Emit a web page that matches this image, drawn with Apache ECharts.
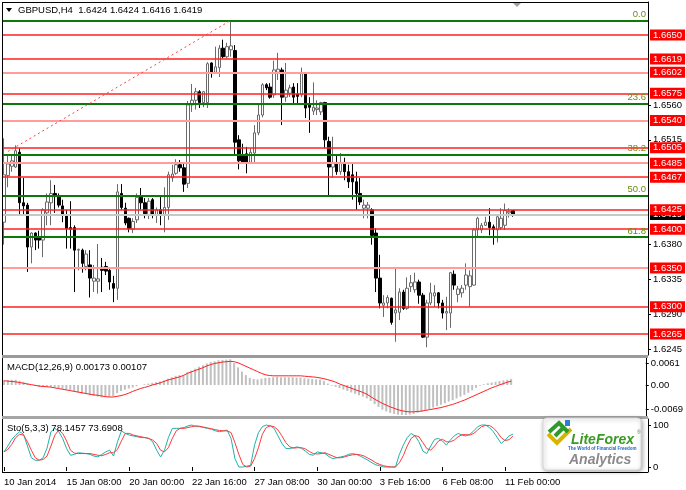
<!DOCTYPE html>
<html><head><meta charset="utf-8">
<script src="https://cdn.jsdelivr.net/npm/echarts@6/dist/echarts.min.js"></script>
<style>html,body{margin:0;padding:0;background:#fff}#c{width:686px;height:490px}</style>
</head><body><div id="c"></div>
<script>
// ---- data ----
const tickLabels = ['10 Jan 2014','15 Jan 08:00','20 Jan 00:00','22 Jan 16:00','27 Jan 08:00','30 Jan 00:00','3 Feb 16:00','6 Feb 08:00','11 Feb 00:00'];
const opens = [1.6409,1.6469,1.6481,1.6480,1.6499,1.6434,1.6431,1.6377,1.6395,1.6390,
1.6386,1.6421,1.6434,1.6446,1.6443,1.6430,1.6418,1.6402,1.6402,1.6373,
1.6373,1.6352,1.6354,1.6333,1.6333,1.6351,1.6352,1.6347,1.6330,1.6324,
1.6446,1.6427,1.6414,1.6400,1.6412,1.6442,1.6434,1.6418,1.6438,1.6418,
1.6425,1.6418,1.6428,1.6466,1.6472,1.6483,1.6479,1.6459,1.6560,1.6566,
1.6577,1.6563,1.6563,1.6614,1.6602,1.6608,1.6633,1.6622,1.6631,1.6630,
1.6515,1.6496,1.6497,1.6486,1.6498,1.6524,1.6547,1.6586,1.6583,1.6573,
1.6602,1.6605,1.6570,1.6575,1.6583,1.6574,1.6573,1.6600,1.6561,1.6552,
1.6554,1.6551,1.6563,1.6513,1.6480,1.6485,1.6474,1.6486,1.6474,1.6470,
1.6461,1.6446,1.6427,1.6427,1.6425,1.6395,1.6337,1.6302,1.6305,1.6311,
1.6292,1.6293,1.6319,1.6298,1.6326,1.6322,1.6332,1.6315,1.6261,1.6305,
1.6314,1.6318,1.6305,1.6292,1.6292,1.6342,1.6316,1.6318,1.6328,1.6326,
1.6328,1.6399,1.6399,1.6405,1.6409,1.6403,1.6399,1.6402,1.6405,1.6421,
1.6424];
const closes = [1.6470,1.6484,1.6488,1.6501,1.6434,1.6430,1.6377,1.6395,1.6386,1.6386,
1.6425,1.6435,1.6446,1.6442,1.6431,1.6418,1.6401,1.6400,1.6373,1.6374,
1.6356,1.6368,1.6337,1.6337,1.6336,1.6347,1.6346,1.6332,1.6324,1.6448,
1.6428,1.6408,1.6401,1.6410,1.6441,1.6434,1.6420,1.6436,1.6418,1.6425,
1.6420,1.6428,1.6470,1.6471,1.6483,1.6479,1.6458,1.6560,1.6566,1.6577,
1.6563,1.6577,1.6613,1.6601,1.6609,1.6633,1.6622,1.6635,1.6636,1.6512,
1.6488,1.6486,1.6486,1.6499,1.6524,1.6547,1.6586,1.6582,1.6570,1.6605,
1.6606,1.6570,1.6579,1.6582,1.6570,1.6571,1.6601,1.6556,1.6557,1.6557,
1.6556,1.6563,1.6515,1.6480,1.6486,1.6474,1.6486,1.6474,1.6461,1.6461,
1.6446,1.6435,1.6431,1.6431,1.6392,1.6337,1.6305,1.6305,1.6312,1.6280,
1.6296,1.6319,1.6298,1.6324,1.6331,1.6332,1.6315,1.6261,1.6305,1.6318,
1.6318,1.6305,1.6292,1.6294,1.6344,1.6328,1.6323,1.6324,1.6341,1.6340,
1.6399,1.6414,1.6405,1.6409,1.6402,1.6400,1.6416,1.6414,1.6424,1.6423,
1.6419];
const highs = [1.6517,1.6496,1.6496,1.6508,1.6504,1.6466,1.6434,1.6396,1.6396,1.6398,
1.6427,1.6446,1.6463,1.6457,1.6446,1.6438,1.6425,1.6436,1.6405,1.6375,
1.6375,1.6373,1.6373,1.6354,1.6381,1.6363,1.6358,1.6350,1.6340,1.6458,
1.6458,1.6434,1.6415,1.6414,1.6446,1.6453,1.6440,1.6440,1.6440,1.6428,
1.6444,1.6454,1.6474,1.6483,1.6490,1.6489,1.6485,1.6565,1.6587,1.6582,
1.6579,1.6578,1.6615,1.6615,1.6635,1.6637,1.6644,1.6640,1.6669,1.6637,
1.6521,1.6510,1.6506,1.6504,1.6534,1.6560,1.6588,1.6588,1.6588,1.6617,
1.6627,1.6608,1.6614,1.6586,1.6588,1.6588,1.6608,1.6602,1.6570,1.6589,
1.6566,1.6564,1.6564,1.6519,1.6519,1.6496,1.6498,1.6492,1.6483,1.6484,
1.6474,1.6466,1.6438,1.6435,1.6427,1.6401,1.6367,1.6315,1.6315,1.6312,
1.6350,1.6324,1.6322,1.6338,1.6341,1.6344,1.6335,1.6318,1.6309,1.6331,
1.6328,1.6319,1.6309,1.6313,1.6345,1.6347,1.6327,1.6328,1.6356,1.6347,
1.6401,1.6416,1.6408,1.6416,1.6427,1.6406,1.6418,1.6427,1.6433,1.6427,
1.6424];
const lows = [1.6380,1.6454,1.6474,1.6479,1.6418,1.6418,1.6345,1.6356,1.6373,1.6375,
1.6364,1.6405,1.6405,1.6421,1.6428,1.6409,1.6375,1.6375,1.6319,1.6347,
1.6344,1.6347,1.6312,1.6319,1.6317,1.6319,1.6341,1.6322,1.6306,1.6309,
1.6425,1.6405,1.6396,1.6395,1.6408,1.6425,1.6414,1.6413,1.6414,1.6408,
1.6405,1.6396,1.6412,1.6461,1.6470,1.6474,1.6448,1.6453,1.6551,1.6554,
1.6556,1.6557,1.6556,1.6595,1.6601,1.6596,1.6620,1.6620,1.6622,1.6496,
1.6477,1.6485,1.6472,1.6484,1.6486,1.6521,1.6544,1.6579,1.6568,1.6569,
1.6592,1.6534,1.6564,1.6570,1.6560,1.6562,1.6570,1.6543,1.6524,1.6547,
1.6547,1.6547,1.6504,1.6444,1.6466,1.6470,1.6470,1.6463,1.6453,1.6438,
1.6425,1.6431,1.6414,1.6414,1.6380,1.6319,1.6298,1.6287,1.6298,1.6277,
1.6255,1.6283,1.6296,1.6296,1.6319,1.6318,1.6304,1.6260,1.6248,1.6302,
1.6300,1.6298,1.6285,1.6270,1.6273,1.6322,1.6306,1.6312,1.6322,1.6300,
1.6327,1.6389,1.6395,1.6404,1.6392,1.6380,1.6383,1.6399,1.6399,1.6415,
1.6416];
const macdHist = [0.0013,0.0014,0.0015,0.0015,0.0012,0.0009,0.0004,0.0000,-0.0003,-0.0005,
-0.0005,-0.0005,-0.0006,-0.0007,-0.0009,-0.0011,-0.0013,-0.0015,-0.0019,-0.0021,
-0.0024,-0.0026,-0.0029,-0.0031,-0.0033,-0.0035,-0.0034,-0.0033,-0.0032,-0.0023,
-0.0017,-0.0013,-0.0010,-0.0007,-0.0003,0.0000,0.0002,0.0004,0.0006,0.0008,
0.0010,0.0013,0.0018,0.0022,0.0026,0.0028,0.0029,0.0036,0.0041,0.0046,
0.0052,0.0056,0.0061,0.0065,0.0067,0.0070,0.0071,0.0072,0.0073,0.0062,
0.0050,0.0038,0.0028,0.0020,0.0017,0.0016,0.0018,0.0020,0.0021,0.0022,
0.0023,0.0022,0.0022,0.0022,0.0022,0.0021,0.0021,0.0019,0.0018,0.0017,
0.0016,0.0015,0.0011,0.0004,-0.0002,-0.0005,-0.0009,-0.0013,-0.0017,-0.0021,
-0.0025,-0.0029,-0.0033,-0.0038,-0.0045,-0.0054,-0.0062,-0.0070,-0.0075,-0.0079,
-0.0082,-0.0084,-0.0085,-0.0085,-0.0084,-0.0082,-0.0079,-0.0076,-0.0072,-0.0068,
-0.0064,-0.0060,-0.0056,-0.0052,-0.0047,-0.0043,-0.0038,-0.0033,-0.0028,-0.0022,
-0.0015,-0.0008,-0.0002,0.0002,0.0005,0.0007,0.0009,0.0011,0.0013,0.0015,
0.00173];
const macdSignal = [0.0012,0.0011,0.0010,0.0009,0.0007,0.0005,0.0003,0.0001,-0.0001,-0.0003,
-0.0004,-0.0005,-0.0006,-0.0008,-0.0010,-0.0012,-0.0014,-0.0016,-0.0018,-0.0020,
-0.0022,-0.0024,-0.0026,-0.0028,-0.0029,-0.0031,-0.0033,-0.0034,-0.0034,-0.0032,
-0.0030,-0.0027,-0.0023,-0.0018,-0.0014,-0.0010,-0.0007,-0.0004,0.0000,0.0003,
0.0006,0.0010,0.0014,0.0017,0.0020,0.0023,0.0027,0.0033,0.0037,0.0041,
0.0045,0.0049,0.0054,0.0058,0.0061,0.0063,0.0065,0.0066,0.0067,0.0066,
0.0063,0.0058,0.0053,0.0048,0.0043,0.0038,0.0033,0.0029,0.0027,0.0026,
0.0026,0.0026,0.0026,0.0026,0.0026,0.0026,0.0026,0.0025,0.0024,0.0023,
0.0022,0.0020,0.0018,0.0015,0.0012,0.0008,0.0003,-0.0001,-0.0005,-0.0009,
-0.0013,-0.0017,-0.0021,-0.0026,-0.0033,-0.0040,-0.0046,-0.0052,-0.0057,-0.0062,
-0.0066,-0.0070,-0.0073,-0.0075,-0.0076,-0.0076,-0.0075,-0.0074,-0.0072,-0.0070,
-0.0068,-0.0066,-0.0064,-0.0061,-0.0058,-0.0055,-0.0051,-0.0047,-0.0043,-0.0038,
-0.0033,-0.0028,-0.0023,-0.0018,-0.0013,-0.0008,-0.0004,0.0000,0.0004,0.0008,
0.00107];
const stochMain = [36,50,66,76,84,78,50,22,16,16,
22,45,84,92,84,68,44,28,30,34,
33,32,30,26,24,30,36,40,26,60,
86,80,76,74,72,70,70,68,60,40,
24,40,70,92,92,92,94,98,100,96,
96,94,92,90,86,84,86,88,68,20,
0,0,2,4,52,82,96,100,98,92,
74,56,44,44,46,48,44,38,30,28,
36,34,32,25,20,22,24,26,30,32,
30,26,21,16,10,5,3,0,0,0,
0,30,52,70,80,74,60,38,32,50,
66,68,62,52,64,74,80,76,74,78,
86,96,100,100,94,84,70,56,64,74,
78.1457];
const stochSignal = [36,42,54,70,78,76,60,40,22,16,
18,26,50,76,88,80,62,40,33,32,
32,32,32,30,28,27,30,34,34,42,
62,80,80,76,74,72,70,68,64,56,
40,36,46,68,86,92,92,94,96,98,
97,95,93,91,89,87,86,86,82,58,
30,6,0,2,20,46,78,94,98,96,
88,74,58,48,45,46,46,43,37,32,
31,32,34,30,26,22,22,24,27,29,
30,29,26,21,16,10,6,3,1,0,
0,10,27,50,68,75,72,58,44,40,
50,62,66,60,60,64,72,77,77,76,
80,88,96,99,99,93,83,70,63,65,
73.6908];
const strongLevels = [1.6650,1.6619,1.6575,1.6505,1.6467,1.6425,1.6400,1.6300,1.6265];
const softLevels = [1.6602,1.6540,1.6485,1.6350];
const fibLevels = [1.6669,1.6562,1.6496,1.6443,1.6390];
const fibNames = ['0.0','23.6','38.2','50.0','61.8'];
const fibAnchorStart = [1, 1.6500];
const fibAnchorEnd = [58, 1.6669];
const currentPrice = 1.6419;
const priceTicks = [1.6245,1.6290,1.6335,1.6380,1.6515,1.6560];
const macdTicks = [0.0061,0,-0.0069];
const stochTicks = [0,100];
const titleText = 'GBPUSD,H4  1.6424 1.6424 1.6416 1.6419';
const macdText = 'MACD(12,26,9) 0.00173 0.00107';
const stochText = 'Sto(5,3,3) 78.1457 73.6908';

// ---- chart ----
const SLOTS = 165;
const cats = Array.from({length: SLOTS}, (_, i) => String(i));
const FONT = 'Liberation Sans';
const FS = 9.5;
const candles = opens.map((o, i) => [o, closes[i], lows[i], highs[i]]);
const isTick = (idx) => idx % 16 === 0 && idx / 16 < tickLabels.length;

const redLabel = (bg) => ({
  show: true, position: 'end', distance: 2, formatter: p => Number(p.value).toFixed(4),
  backgroundColor: bg, color: '#fff', fontFamily: FONT, fontSize: FS,
  padding: [1, 3, 0, 3], lineHeight: 10
});

const lineMarks = [];
softLevels.forEach(v => lineMarks.push({yAxis: v, lineStyle: {color: '#ff9c9c', width: 2, type: 'solid', opacity: 1}, label: redLabel('#ff0000')}));
strongLevels.forEach(v => lineMarks.push({yAxis: v, lineStyle: {color: '#ff2020', width: 1.5, type: 'solid', opacity: 1}, label: redLabel('#ff0000')}));

const fibMarks = fibLevels.map((v, k) => ({
  yAxis: v, lineStyle: {color: '#0b7a0b', width: 2, type: 'solid', opacity: 1},
  label: {show: true, position: 'insideEndTop', formatter: fibNames[k], color: '#6f8a10',
    fontFamily: FONT, fontSize: FS, distance: [2, 1]}
}));

const xBase = (g, show) => ({
  type: 'category', gridIndex: g, data: cats, boundaryGap: true,
  axisLine: {show: false}, splitLine: {show: false},
  axisTick: show ? {show: true, interval: isTick, alignWithLabel: true, length: 4, lineStyle: {color: '#000'}} : {show: false},
  axisLabel: show ? {show: true, interval: isTick, formatter: (v, idx) => tickLabels[idx / 16],
    align: 'left', color: '#000', fontFamily: FONT, fontSize: FS, margin: 5} : {show: false}
});
const yBase = (g, min, max, ticks, fmt) => ({
  type: 'value', gridIndex: g, position: 'right', min: min, max: max,
  splitLine: {show: false},
  axisLine: {show: true, lineStyle: {color: '#000'}},
  axisTick: {show: true, length: 3, customValues: ticks, lineStyle: {color: '#000'}},
  axisLabel: {show: true, customValues: ticks, formatter: fmt, color: '#000', fontFamily: FONT, fontSize: FS, margin: 5}
});

const option = {
  animation: false,
  backgroundColor: '#fff',
  color: ['#ff0000'],
  grid: [
    {left: 2, right: 38, top: 2, height: 353},
    {left: 2, right: 38, top: 358, height: 58},
    {left: 2, right: 38, top: 419, height: 53}
  ],
  xAxis: [xBase(0, false), xBase(1, false), xBase(2, true)],
  yAxis: [
    yBase(0, 1.62380, 1.66925, priceTicks, v => v.toFixed(4)),
    yBase(1, -0.00878, 0.00765, macdTicks, v => v === 0 ? '0.00' : v.toFixed(4)),
    yBase(2, -11.9, 114.3, stochTicks, v => String(v))
  ],
  series: [
    {type: 'line', xAxisIndex: 0, yAxisIndex: 0, data: [], z: 1, color: '#c8c8c8',
      markLine: {silent: true, precision: 5, symbol: ['none', 'none'], animation: false,
        lineStyle: {color: '#c8c8c8', width: 2, type: 'solid'},
        data: [{yAxis: currentPrice, lineStyle: {color: '#c8c8c8', width: 2, type: 'solid'}, label: redLabel('#000')}]}},
    {type: 'candlestick', xAxisIndex: 0, yAxisIndex: 0, data: candles, barWidth: 3, z: 2,
      itemStyle: {color: '#ffffff', color0: '#000000', borderColor: '#6a6a6a', borderColor0: '#000000', borderWidth: 1}},
    {type: 'line', xAxisIndex: 0, yAxisIndex: 0, data: [], z: 3, color: '#ff0000',
      markLine: {silent: true, precision: 5, symbol: ['none', 'none'], animation: false,
        lineStyle: {color: '#ff0000', width: 1, type: 'solid'}, data: lineMarks}},
    {type: 'line', xAxisIndex: 0, yAxisIndex: 0, data: [], z: 4, color: '#0b7a0b',
      markLine: {silent: true, precision: 5, symbol: ['none', 'none'], animation: false,
        lineStyle: {color: '#0b7a0b', width: 2, type: 'solid'}, data: fibMarks.concat([
        [{coord: fibAnchorStart, lineStyle: {color: '#ff4040', width: 1, type: [2, 3]}, label: {show: false}}, {coord: fibAnchorEnd}]
      ])}},
    {type: 'bar', xAxisIndex: 1, yAxisIndex: 1, data: macdHist, barWidth: 2,
      itemStyle: {color: '#c0c0c0'}},
    {type: 'line', xAxisIndex: 1, yAxisIndex: 1, data: macdSignal, symbol: 'none',
      lineStyle: {color: '#ff2020', width: 1}},
    {type: 'line', xAxisIndex: 2, yAxisIndex: 2, data: stochMain, symbol: 'none',
      lineStyle: {color: '#20b2aa', width: 1}},
    {type: 'line', xAxisIndex: 2, yAxisIndex: 2, data: stochSignal, symbol: 'none',
      lineStyle: {color: '#ff3a3a', width: 1}}
  ],
  graphic: [
    {type: 'line', shape: {x1: 2, y1: 2.5, x2: 648, y2: 2.5}, style: {stroke: '#000', lineWidth: 1}, z: 50},
    {type: 'line', shape: {x1: 2.5, y1: 2, x2: 2.5, y2: 473}, style: {stroke: '#000', lineWidth: 1}, z: 50},
    {type: 'line', shape: {x1: 2, y1: 472.5, x2: 648, y2: 472.5}, style: {stroke: '#000', lineWidth: 1}, z: 50},
    {type: 'rect', shape: {x: 2, y: 355, width: 646, height: 3}, style: {fill: '#9a9a9a'}, z: 50},
    {type: 'rect', shape: {x: 2, y: 416, width: 646, height: 3}, style: {fill: '#a6a6a6'}, z: 50},
    {type: 'polygon', shape: {points: [[6, 8], [12, 8], [9, 12]]}, style: {fill: '#000'}, z: 50},
    {type: 'polygon', shape: {points: [[513, 3], [521, 3], [517, 7]]}, style: {fill: '#a0a0a0'}, z: 50},
    {type: 'text', x: 18, y: 10, style: {text: titleText, fill: '#000', font: '9.5px "Liberation Sans"', verticalAlign: 'middle'}, z: 50},
    {type: 'text', x: 7, y: 367, style: {text: macdText, fill: '#000', font: FS + 'px "Liberation Sans"', verticalAlign: 'middle'}, z: 50},
    {type: 'text', x: 7, y: 428, style: {text: stochText, fill: '#000', font: FS + 'px "Liberation Sans"', verticalAlign: 'middle'}, z: 50},
    // logo box
    {type: 'rect', shape: {x: 543, y: 418, width: 98, height: 52, r: 4},
      style: {fill: '#fff', stroke: '#d8d8d8', lineWidth: 1, shadowBlur: 4, shadowColor: 'rgba(0,0,0,0.35)', shadowOffsetX: 1, shadowOffsetY: 1}, z: 60},
    {type: 'polyline', shape: {points: [[548, 434], [557, 443], [571, 429]]}, style: {stroke: '#d6b400', lineWidth: 4, fill: null}, z: 61},
    {type: 'polyline', shape: {points: [[549, 432], [559, 423], [568, 432]]}, style: {stroke: '#2e9a2e', lineWidth: 4, fill: null}, z: 61},
    {type: 'polyline', shape: {points: [[555, 436], [564, 427]]}, style: {stroke: '#2e9a2e', lineWidth: 4, fill: null}, z: 61},
    {type: 'rect', shape: {x: 565, y: 420, width: 5, height: 6}, style: {fill: '#2a7fd4'}, z: 62},
    {type: 'text', x: 571, y: 440, style: {text: 'LiteForex', fill: '#3b9a24', font: 'italic bold 14px "Liberation Sans"', verticalAlign: 'middle'}, z: 62},
    {type: 'text', x: 637, y: 433, style: {text: '®', fill: '#3b9a24', font: '5px "Liberation Sans"', verticalAlign: 'middle'}, z: 62},
    {type: 'text', x: 568, y: 449, style: {text: 'The World of Financial Freedom', fill: '#2266c4', font: 'bold 4.5px "Liberation Sans"', verticalAlign: 'middle'}, z: 62},
    {type: 'text', x: 569, y: 460, style: {text: 'Analytics', fill: '#8a8a8a', font: 'italic bold 14px "Liberation Sans"', verticalAlign: 'middle'}, z: 62}
  ]
};
const chart = echarts.init(document.getElementById('c'), null, {renderer: 'canvas'});
chart.setOption(option);
</script>
</body></html>
